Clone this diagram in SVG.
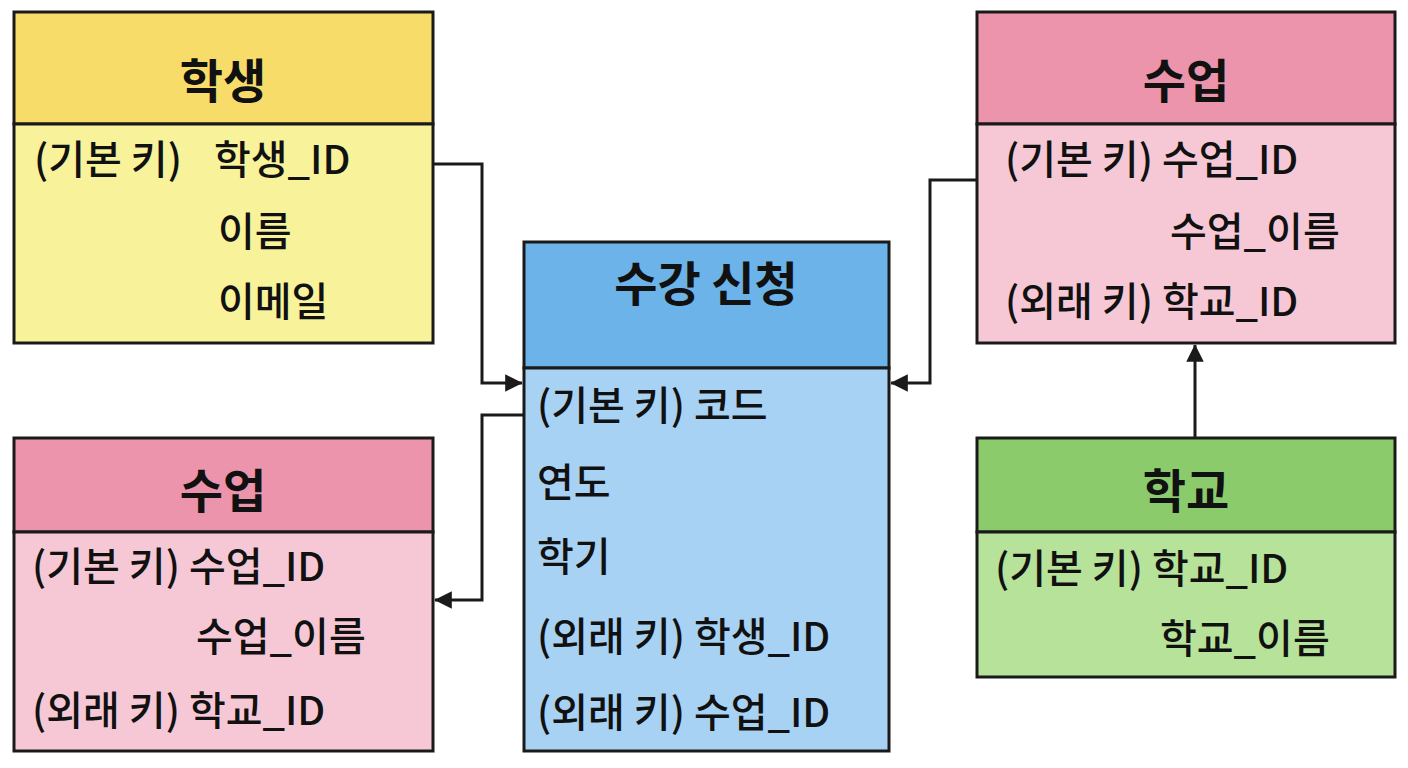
<svg xmlns="http://www.w3.org/2000/svg" width="1408" height="768" viewBox="0 0 1408 768">
<style>
.b{stroke:#1a1a1a;stroke-width:3}
.h{font-family:"Noto Sans CJK KR","Noto Sans",sans-serif;font-weight:bold;font-size:47px;fill:#111;text-anchor:middle}
.t{font-family:"Noto Sans CJK KR","Noto Sans",sans-serif;font-weight:500;font-size:40px;fill:#111}
.c{fill:none;stroke:#1a1a1a;stroke-width:3}
</style>
<defs><marker id="a" viewBox="0 0 10 10" refX="9" refY="5" markerWidth="7" markerHeight="7" orient="auto" markerUnits="userSpaceOnUse" style="overflow:visible"><path d="M0,0L10,5L0,10z" fill="#1a1a1a" transform="scale(2.5) translate(-6,-3)"/></marker></defs>
<rect width="1408" height="768" fill="#fff"/>
<g id="student">
<rect x="14" y="12" width="419" height="112" fill="#f7dc6a" class="b"/>
<rect x="14" y="124" width="419" height="219" fill="#f8f29a" class="b"/>
<text x="223" y="98" class="h">학생</text>
<text x="34" y="174" class="t">(기본 키)</text><text x="214" y="174" class="t">학생_ID</text>
<text x="218" y="246" class="t">이름</text>
<text x="218" y="316" class="t">이메일</text>
</g>
<g id="class-top">
<rect x="977" y="12" width="418" height="112" fill="#eb94ab" class="b"/>
<rect x="977" y="124" width="418" height="219" fill="#f6c8d6" class="b"/>
<text x="1186" y="98" class="h">수업</text>
<text x="1005" y="174" class="t">(기본 키) 수업_ID</text>
<text x="1170" y="246" class="t">수업_이름</text>
<text x="1005" y="316" class="t">(외래 키) 학교_ID</text>
</g>
<g id="enroll">
<rect x="524" y="242" width="365" height="126" fill="#6cb3ea" class="b"/>
<rect x="524" y="368" width="365" height="383" fill="#a8d2f4" class="b"/>
<text x="706" y="301" class="h">수강 신청</text>
<text x="537" y="420" class="t">(기본 키) 코드</text>
<text x="537" y="497" class="t">연도</text>
<text x="537" y="571" class="t">학기</text>
<text x="537" y="651" class="t">(외래 키) 학생_ID</text>
<text x="537" y="727" class="t">(외래 키) 수업_ID</text>
</g>
<g id="class-bottom">
<rect x="14" y="438" width="419" height="94" fill="#eb94ab" class="b"/>
<rect x="14" y="532" width="419" height="219" fill="#f6c8d6" class="b"/>
<text x="223" y="508" class="h">수업</text>
<text x="32" y="581" class="t">(기본 키) 수업_ID</text>
<text x="196" y="651" class="t">수업_이름</text>
<text x="32" y="725" class="t">(외래 키) 학교_ID</text>
</g>
<g id="school">
<rect x="977" y="438" width="418" height="94" fill="#8bcb6b" class="b"/>
<rect x="977" y="532" width="418" height="145" fill="#b6e29a" class="b"/>
<text x="1186" y="508" class="h">학교</text>
<text x="995" y="583" class="t">(기본 키) 학교_ID</text>
<text x="1160" y="653" class="t">학교_이름</text>
</g>
<g id="connectors">
<path d="M433,164H482V383H522" class="c" marker-end="url(#a)"/>
<path d="M524,415H482V600H435" class="c" marker-end="url(#a)"/>
<path d="M977,180H930V383H891" class="c" marker-end="url(#a)"/>
<path d="M1195,438V345" class="c" marker-end="url(#a)"/>
</g>
</svg>
